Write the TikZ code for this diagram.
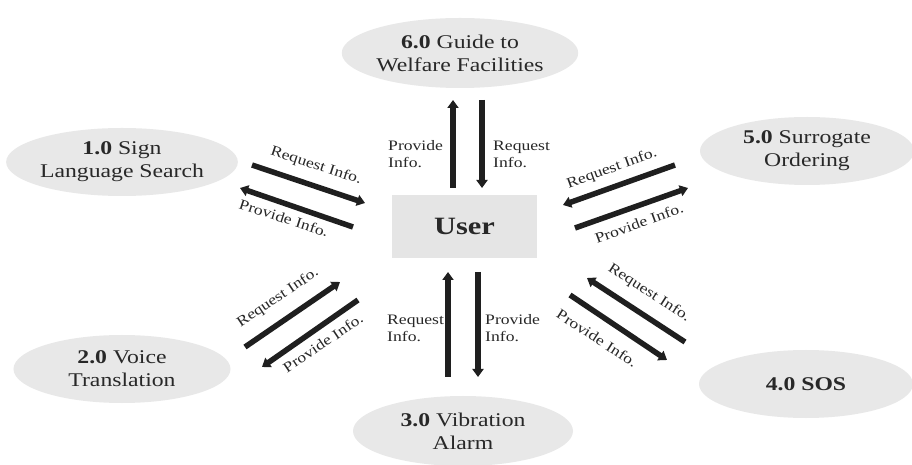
\documentclass[tikz,border=0pt]{standalone}
\usepackage{fontspec}
\setmainfont[FakeStretch=1.22]{Liberation Serif}
\usetikzlibrary{shapes.geometric,arrows.meta}
\definecolor{procgray}{RGB}{232,232,232}
\definecolor{boxgray}{RGB}{229,229,229}
\definecolor{txt}{RGB}{40,40,40}
\begin{document}
\begin{tikzpicture}[x=1bp,y=-1bp,
  proc/.style={ellipse, fill=procgray, minimum width=217bp, minimum height=68bp,
    inner sep=0pt, align=center, text=txt, font=\fontsize{19.5}{23}\selectfont},
  userbox/.style={rectangle, fill=boxgray, minimum width=145bp, minimum height=63bp,
    inner sep=0pt, text=txt, font=\fontsize{25}{28}\selectfont\bfseries},
  flow/.style={line width=5.5bp, draw=black!88, -{Triangle[length=8bp,width=11bp]}},
  lbl/.style={inner sep=0pt, text=txt, font=\fontsize{14.5}{17}\selectfont}]
\useasboundingbox (0,0) rectangle (912,465);
\fill[white] (0,0) rectangle (912,465);

% processes
\node[proc, minimum width=228bp, minimum height=70bp] (p6) at (460,53) {{\bfseries 6.0} Guide to\\Welfare Facilities};
\node[proc] (p1) at (122,162) {{\bfseries 1.0} Sign\\Language Search};
\node[proc, minimum width=214bp] (p5) at (807,151) {{\bfseries 5.0} Surrogate\\Ordering};
\node[proc] (p2) at (122,369) {{\bfseries 2.0} Voice\\Translation};
\node[proc, minimum width=220bp, minimum height=70bp] (p3) at (463,431) {{\bfseries 3.0} Vibration\\Alarm};
\node[proc, minimum width=214bp] (p4) at (806,384) {{\bfseries 4.0 SOS}};
\node[userbox] (user) at (464.5,226.5) {User};

% arrow end points
\coordinate (t1a) at (453,188); \coordinate (t1b) at (453,100);
\coordinate (t2a) at (482,100); \coordinate (t2b) at (482,188);
\coordinate (b1a) at (448,377); \coordinate (b1b) at (448,272);
\coordinate (b2a) at (478,272); \coordinate (b2b) at (478,377);
\coordinate (ul1a) at (252,165); \coordinate (ul1b) at (365,203);
\coordinate (ul2a) at (353,227); \coordinate (ul2b) at (240,188);
\coordinate (ur1a) at (675,165); \coordinate (ur1b) at (563,205);
\coordinate (ur2a) at (575,228); \coordinate (ur2b) at (688,188);
\coordinate (ll1a) at (245,347); \coordinate (ll1b) at (340,282);
\coordinate (ll2a) at (358,300); \coordinate (ll2b) at (262,367);
\coordinate (lr1a) at (685,342); \coordinate (lr1b) at (587,278);
\coordinate (lr2a) at (570,295); \coordinate (lr2b) at (667,360);

\draw[flow] (t1a) -- (t1b);
\draw[flow] (t2a) -- (t2b);
\draw[flow] (b1a) -- (b1b);
\draw[flow] (b2a) -- (b2b);
\draw[flow] (ul1a) -- (ul1b);
\draw[flow] (ul2a) -- (ul2b);
\draw[flow] (ur1a) -- (ur1b);
\draw[flow] (ur2a) -- (ur2b);
\draw[flow] (ll1a) -- (ll1b);
\draw[flow] (ll2a) -- (ll2b);
\draw[flow] (lr1a) -- (lr1b);
\draw[flow] (lr2a) -- (lr2b);

% labels
\node[lbl, anchor=west, align=left] (lt1) at (388,154) {Provide\\Info.};
\node[lbl, anchor=west, align=left] (lt2) at (493,154) {Request\\Info.};
\node[lbl, anchor=west, align=left] (lb1) at (387,328) {Request\\Info.};
\node[lbl, anchor=west, align=left] (lb2) at (485,328) {Provide\\Info.};
\node[lbl, rotate=-18] (lul1) at (316,166) {Request Info.};
\node[lbl, rotate=-18] (lul2) at (284,218) {Provide Info.};
\node[lbl, rotate=20] (lur1) at (612,169) {Request Info.};
\node[lbl, rotate=20] (lur2) at (639,223) {Provide Info.};
\node[lbl, rotate=34] (lll1) at (278,298) {Request Info.};
\node[lbl, rotate=34] (lll2) at (323,343) {Provide Info.};
\node[lbl, rotate=-33] (llr1) at (649,293) {Request Info.};
\node[lbl, rotate=-33] (llr2) at (597,338) {Provide Info.};
\end{tikzpicture}
\end{document}
